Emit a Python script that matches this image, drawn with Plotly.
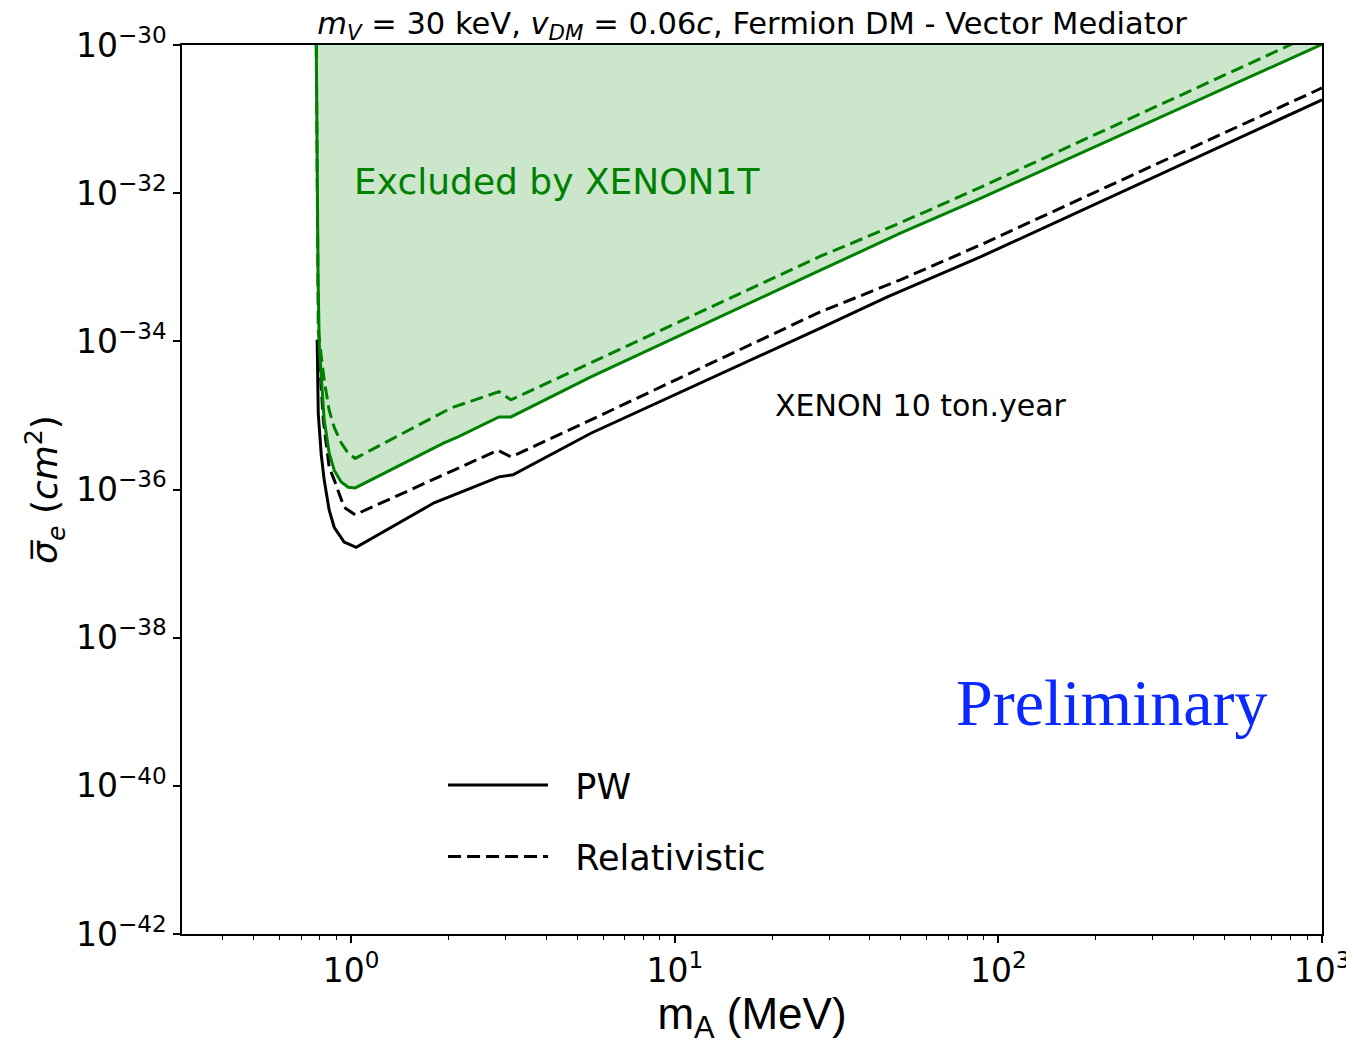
import math
import plotly.graph_objects as go

# ---------------- data ----------------
# XENON1T, PW (green solid, boundary of excluded region)
m_x1t_pw = [0.780, 0.786, 0.790, 0.797, 0.808, 0.825, 0.855, 0.886, 0.931, 0.979, 1.029,
            1.936, 2.139, 2.862, 3.117, 5.505, 28.2, 49.8, 88.0, 965.0, 1000.0]
sig_x1t_pw = [1.0e-30, 1.0e-32, 6.76e-34, 8.32e-35, 3.02e-35, 8.71e-36, 3.09e-36, 1.82e-36,
              1.26e-36, 1.07e-36, 1.05e-36, 4.27e-36, 5.13e-36, 9.55e-36, 9.55e-36, 3.31e-35,
              9.12e-34, 2.88e-33, 8.51e-33, 9.33e-31, 1.02e-30]

# XENON1T, Relativistic (green dashed)
m_x1t_rel = [0.780, 0.785, 0.791, 0.802, 0.825, 0.855, 0.886, 0.931, 0.979, 1.029,
             2.035, 2.862, 3.117, 5.505, 28.2, 49.8, 88.0, 796.0, 1000.0]
sig_x1t_rel = [1.0e-30, 1.70e-33, 1.41e-34, 8.32e-35, 3.02e-35, 1.17e-35, 6.92e-36, 4.27e-36,
               3.09e-36, 2.63e-36, 1.26e-35, 2.09e-35, 1.62e-35, 5.13e-35, 1.41e-33, 3.98e-33,
               1.20e-32, 1.0e-30, 1.58e-30]

# XENON 10 ton.year, PW (black solid)
m_x10_pw = [0.785, 0.791, 0.808, 0.825, 0.855, 0.886, 0.951, 1.036, 1.804, 2.862, 3.162,
            5.505, 28.2, 45.4, 88.0, 1000.0]
sig_x10_pw = [1.05e-34, 1.07e-35, 2.95e-36, 1.35e-36, 5.25e-37, 3.09e-37, 1.95e-37, 1.66e-37,
              6.61e-37, 1.48e-36, 1.58e-36, 5.75e-36, 1.51e-34, 3.98e-34, 1.38e-33, 1.82e-31]

# XENON 10 ton.year, Relativistic (black dashed)
m_x10_rel = [0.791, 0.820, 0.855, 0.886, 0.951, 1.029, 2.842, 3.117, 5.505, 28.2, 49.8,
             88.0, 965.0, 1000.0]
sig_x10_rel = [1.05e-34, 8.71e-36, 2.00e-36, 1.35e-36, 5.75e-37, 4.57e-37, 3.39e-36, 2.75e-36,
               8.71e-36, 2.51e-34, 6.76e-34, 2.00e-33, 2.45e-31, 2.63e-31]

# axis ticks
x_tickvals = [1, 10, 100, 1000]
x_ticktext = ["10<sup>0</sup>", "10<sup>1</sup>", "10<sup>2</sup>", "10<sup>3</sup>"]
x_minor = [0.4, 0.5, 0.6, 0.7, 0.8, 0.9] + [k * d for d in (1, 10, 100) for k in range(2, 10)]
y_tickvals = [1e-42, 1e-40, 1e-38, 1e-36, 1e-34, 1e-32, 1e-30]
y_ticktext = ["10<sup>−42</sup>", "10<sup>−40</sup>", "10<sup>−38</sup>", "10<sup>−36</sup>",
              "10<sup>−34</sup>", "10<sup>−32</sup>", "10<sup>−30</sup>"]

GREEN = "#008000"
DASH = "13px,6px"
LW = 3
GAP = "\u00a0\u00a0"

W, H = 1346, 1037   # page body has an 8px margin

fig = go.Figure()

# excluded region fill
fig.add_trace(go.Scatter(x=m_x1t_pw, y=sig_x1t_pw, mode="lines", fill="toself",
                         fillcolor="rgba(0,128,0,0.2)", line=dict(width=0, color=GREEN),
                         showlegend=False, hoverinfo="skip"))

fig.add_trace(go.Scatter(x=m_x10_pw, y=sig_x10_pw, mode="lines", name=GAP + "PW",
                         line=dict(color="black", width=LW), legendgroup="a"))
fig.add_trace(go.Scatter(x=m_x10_rel, y=sig_x10_rel, mode="lines", name=GAP + "Relativistic",
                         line=dict(color="black", width=LW, dash=DASH), legendgroup="b"))
fig.add_trace(go.Scatter(x=m_x1t_pw, y=sig_x1t_pw, mode="lines", name="XENON1T PW",
                         line=dict(color=GREEN, width=LW), showlegend=False))
fig.add_trace(go.Scatter(x=m_x1t_rel, y=sig_x1t_rel, mode="lines", name="XENON1T Relativistic",
                         line=dict(color=GREEN, width=LW, dash=DASH), showlegend=False))

axis_common = dict(showline=True, linecolor="black", linewidth=1.5, mirror=True,
                   ticks="outside", ticklen=7, tickwidth=1.5, tickcolor="black",
                   showgrid=False, zeroline=False, automargin=False,
                   tickfont=dict(family="DejaVu Sans", size=33, color="black"))

fig.update_layout(
    width=W, height=H,
    margin=dict(l=174, r=32, t=37, b=111),
    paper_bgcolor="white", plot_bgcolor="white",
    title=dict(text="<i>m</i><sub><i>V</i></sub> = 30 keV, <i>v</i><sub><i>DM</i></sub> = 0.06<i>c</i>, "
                    "Fermion DM - Vector Mediator",
               x=0.5, xref="paper", xanchor="center", y=1 - 15 / H, yanchor="middle",
               font=dict(family="DejaVu Sans", size=30.5, color="black"), automargin=False),
    xaxis=dict(type="log", range=[math.log10(0.3), 3], tickmode="array",
               tickvals=x_tickvals, ticktext=x_ticktext,
               minor=dict(tickmode="array", tickvals=x_minor, ticks="outside", ticklen=4,
                          tickwidth=1, tickcolor="black", showgrid=False),
               title=dict(text="m<sub>A</sub> (MeV)", standoff=21,
                          font=dict(family="Liberation Sans", size=44, color="black")),
               **axis_common),
    yaxis=dict(type="log", range=[-42, -30], tickmode="array",
               tickvals=y_tickvals, ticktext=y_ticktext,
               title=dict(text="<i>σ\u0305</i><sub><i>e</i></sub> (<i>cm</i><sup>2</sup>)", standoff=7,
                          font=dict(family="DejaVu Sans", size=36, color="black")),
               **axis_common),
    legend=dict(x=0.229, y=0.2005, xanchor="left", yanchor="top", bgcolor="rgba(0,0,0,0)",
                font=dict(family="DejaVu Sans", size=35, color="black"),
                itemwidth=100, tracegroupgap=23),
    annotations=[
        dict(text="Excluded by XENON1T", xref="paper", yref="paper", x=0.149, y=0.847,
             xanchor="left", yanchor="middle", showarrow=False,
             font=dict(family="DejaVu Sans", size=36, color=GREEN)),
        dict(text="XENON 10 ton.year", xref="paper", yref="paper", x=0.518, y=0.595,
             xanchor="left", yanchor="middle", showarrow=False,
             font=dict(family="DejaVu Sans", size=30, color="black")),
        dict(text="Preliminary", xref="paper", yref="paper", x=0.816, y=0.26,
             xanchor="center", yanchor="middle", showarrow=False,
             font=dict(family="Liberation Serif", size=66, color="#0a28ff")),
    ],
)

fig.write_html("out.html")
